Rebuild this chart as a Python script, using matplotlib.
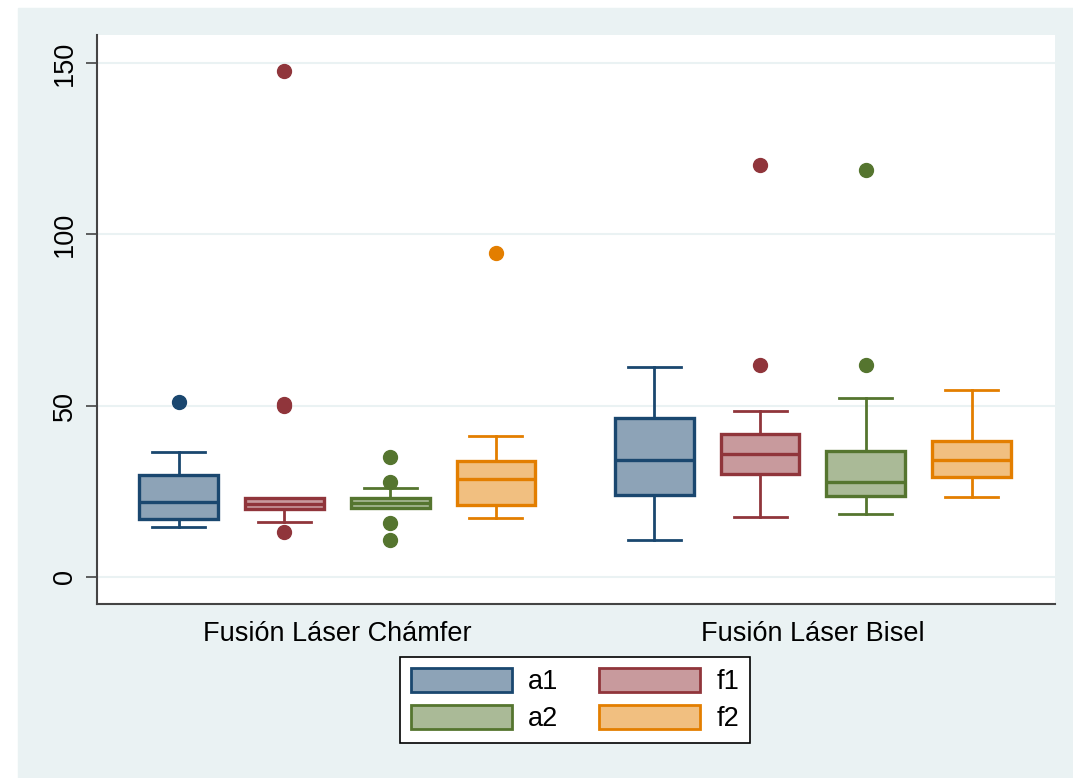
import numpy as np
import matplotlib.pyplot as plt
from matplotlib.patches import Patch, Rectangle
from matplotlib.colors import to_rgb

groups = ['Fusión Láser Chámfer', 'Fusión Láser Bisel']
series = ['a1', 'f1', 'a2', 'f2']
colors = ['#1a476f', '#90353b', '#55752f', '#e37e00']

# box statistics per series, [Chámfer, Bisel]
whislo = {'a1': [14.6, 10.8], 'f1': [15.9, 17.4], 'a2': [20.0, 18.4], 'f2': [17.2, 23.3]}
q1 = {'a1': [16.9, 23.9], 'f1': [19.8, 30.1], 'a2': [20.0, 23.6], 'f2': [20.9, 29.1]}
med = {'a1': [21.9, 34.2], 'f1': [21.4, 35.8], 'a2': [21.6, 27.8], 'f2': [28.5, 34.2]}
q3 = {'a1': [29.8, 46.5], 'f1': [23.0, 41.8], 'a2': [23.1, 36.8], 'f2': [33.9, 39.8]}
whishi = {'a1': [36.5, 61.4], 'f1': [23.0, 48.4], 'a2': [25.9, 52.1], 'f2': [41.1, 54.6]}
fliers = {'a1': [[51.1], []],
          'f1': [[13.0, 49.9, 50.4, 147.7], [62.0, 120.2]],
          'a2': [[10.7, 15.7, 27.7, 35.0], [61.8, 118.8]],
          'f2': [[94.6], []]}


def light(c, f=0.5):
    r = np.array(to_rgb(c))
    return tuple(r * f + (1 - f))


plt.rcParams['font.family'] = ['Liberation Sans', 'DejaVu Sans']
fs = 19.5
fig = plt.figure(figsize=(10.73, 7.78), dpi=100)
fig.patches.append(Rectangle((18 / 1073, 0), 1, (778 - 8) / 778,
                             transform=fig.transFigure, color='#eaf2f3', zorder=-10))
ax = fig.add_axes([97 / 1073, (778 - 604) / 778, (1055 - 97) / 1073, (604 - 35) / 778])
ax.set_facecolor('white')

gap = 4.5
for i, s in enumerate(series):
    stats = []
    for g in range(2):
        stats.append(dict(whislo=whislo[s][g], q1=q1[s][g], med=med[s][g],
                          q3=q3[s][g], whishi=whishi[s][g], fliers=fliers[s][g]))
    c = colors[i]
    ax.bxp(stats, positions=[i, i + gap], widths=0.745, capwidths=0.5,
           patch_artist=True, showfliers=True,
           boxprops=dict(facecolor=light(c), edgecolor=c, linewidth=2.4),
           medianprops=dict(color=c, linewidth=2.4),
           whiskerprops=dict(color=c, linewidth=2),
           capprops=dict(color=c, linewidth=2),
           flierprops=dict(marker='o', markerfacecolor=c, markeredgecolor=c,
                           markersize=10, linestyle='none'))

ax.set_xlim(-0.774, 8.29)
ax.set_ylim(-7.9, 158.2)
ax.set_yticks([0, 50, 100, 150])
ax.set_yticklabels(['0', '50', '100', '150'], rotation=90, va='center', fontsize=fs)
ax.tick_params(axis='y', length=8, width=1.2, color='#444444', pad=6)
ax.set_xticks([1.5, 1.5 + gap])
ax.set_xticklabels(groups, fontsize=fs)
ax.tick_params(axis='x', length=0, pad=12)
ax.grid(axis='y', color='#eaf2f3', linewidth=1.5)
ax.set_axisbelow(True)
for sp in ['top', 'right']:
    ax.spines[sp].set_visible(False)
for sp in ['left', 'bottom']:
    ax.spines[sp].set_color('#444444')
    ax.spines[sp].set_linewidth(1.5)

handles = [Patch(facecolor=light(c), edgecolor=c, linewidth=2, label=s)
           for s, c in zip(series, colors)]
order = [0, 2, 1, 3]
leg = fig.legend([handles[k] for k in order], [series[k] for k in order],
                 ncol=2, loc='center', bbox_to_anchor=(575 / 1073, (778 - 700) / 778),
                 fontsize=fs, handlelength=3.74, handleheight=1.0,
                 frameon=True, fancybox=False, edgecolor='black', facecolor='white',
                 framealpha=1, borderpad=0.4, columnspacing=1.5, labelspacing=0.37,
                 handletextpad=0.6)
leg.get_frame().set_linewidth(1.2)

fig.savefig('out.png', dpi=100)
